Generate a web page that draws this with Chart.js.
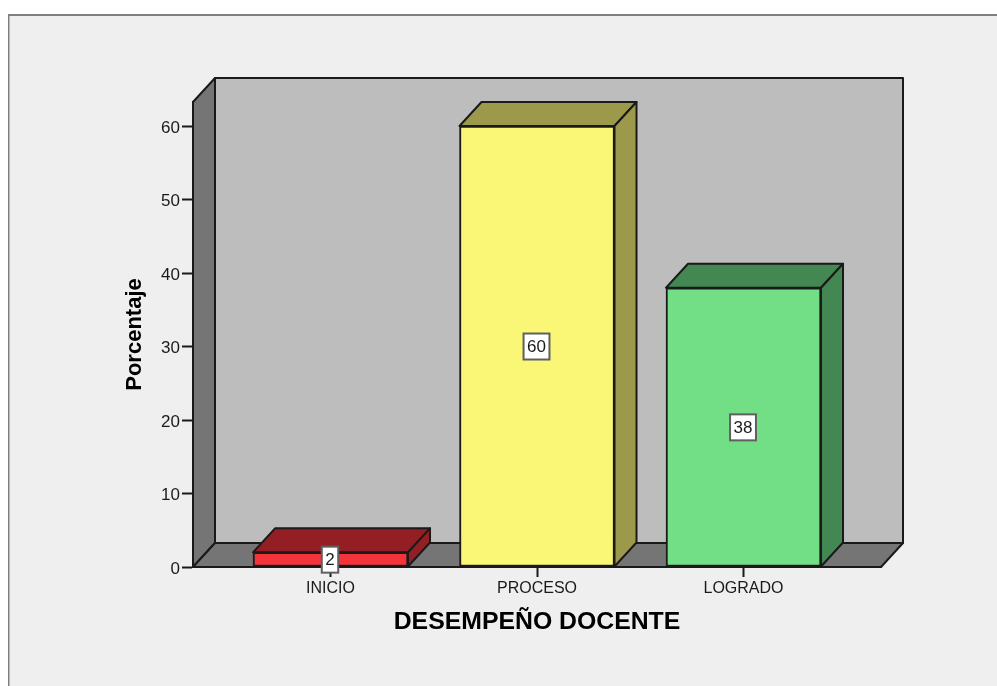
<!DOCTYPE html>
<html>
<head>
<meta charset="utf-8">
<style>
html,body{margin:0;padding:0;background:#fff;overflow:hidden}
canvas{display:block;filter:blur(0.45px)}
</style>
<script src="https://cdn.jsdelivr.net/npm/chart.js@4/dist/chart.umd.min.js"></script>
</head>
<body>
<canvas id="c" width="997" height="686"></canvas>
<script>
const categories = ['INICIO', 'PROCESO', 'LOGRADO'];
const percentages = [2, 60, 38];
const frontColors = ['#f4333b', '#fbf776', '#72de86'];
const sideColors = ['#931f24', '#9c9a4a', '#438753'];
const xAxisTitle = 'DESEMPEÑO DOCENTE';
const yAxisTitle = 'Porcentaje';
const INK = '#1a1a1a', FONT = '"Liberation Sans", Arial, sans-serif';
const DX = 22, DY = -24;

function poly(ctx, pts, fill, stroke) {
  ctx.beginPath();
  pts.forEach((p, i) => i ? ctx.lineTo(p[0], p[1]) : ctx.moveTo(p[0], p[1]));
  ctx.closePath();
  ctx.fillStyle = fill; ctx.fill();
  ctx.strokeStyle = stroke; ctx.lineWidth = 2; ctx.lineJoin = 'round'; ctx.stroke();
}

const frame = {
  id: 'frame',
  beforeDraw(chart) {
    const c = chart.ctx;
    c.save();
    c.fillStyle = '#fff'; c.fillRect(0, 0, chart.width, chart.height);
    c.fillStyle = '#808080'; c.fillRect(8, 14, chart.width, chart.height);
    c.fillStyle = '#efefef'; c.fillRect(9.5, 16, chart.width, chart.height);
    c.restore();
  }
};

const depth = {
  id: 'depth',
  beforeDatasetsDraw(chart) {
    const c = chart.ctx, a = chart.chartArea;
    c.save();
    poly(c, [[a.left + DX, a.top + DY], [a.right + DX, a.top + DY], [a.right + DX, a.bottom + DY], [a.left + DX, a.bottom + DY]], '#bdbdbd', INK);
    poly(c, [[a.left, a.top], [a.left + DX, a.top + DY], [a.left + DX, a.bottom + DY], [a.left, a.bottom]], '#757575', INK);
    poly(c, [[a.left, a.bottom], [a.left + DX, a.bottom + DY], [a.right + DX, a.bottom + DY], [a.right, a.bottom]], '#757575', INK);
    chart.getDatasetMeta(0).data.forEach((b, i) => {
      const l = b.x - b.width / 2, r = b.x + b.width / 2;
      poly(c, [[l, b.y], [l + DX, b.y + DY], [r + DX, b.y + DY], [r, b.y]], sideColors[i], INK);
      poly(c, [[r, b.y], [r + DX, b.y + DY], [r + DX, b.base + DY], [r, b.base]], sideColors[i], INK);
    });
    c.restore();
  },
  afterDatasetsDraw(chart) {
    const c = chart.ctx, ys = chart.scales.y;
    c.save();
    c.font = '17px ' + FONT;
    c.textAlign = 'center'; c.textBaseline = 'middle';
    chart.getDatasetMeta(0).data.forEach((b, i) => {
      const v = percentages[i], t = String(v);
      const yc = ys.getPixelForValue(v / 2);
      const w = c.measureText(t).width + 7, h = 26;
      const x = b.x - 0.5;
      c.fillStyle = '#fff'; c.fillRect(x - w / 2, yc - h / 2, w, h);
      c.strokeStyle = '#5f5f5f'; c.lineWidth = 2; c.strokeRect(x - w / 2, yc - h / 2, w, h);
      c.fillStyle = INK; c.fillText(t, x, yc + 1);
    });
    c.restore();
  }
};

new Chart(document.getElementById('c'), {
  type: 'bar',
  data: {
    labels: categories,
    datasets: [{
      data: percentages.map((v, i) => ({ x: i, y: v })),
      backgroundColor: frontColors,
      borderColor: INK,
      borderWidth: 2,
      borderSkipped: false,
      barThickness: 155
    }]
  },
  options: {
    responsive: false,
    animation: false,
    layout: { padding: { left: 122, right: 116, top: 102, bottom: 0 } },
    plugins: { legend: { display: false }, tooltip: { enabled: false } },
    scales: {
      x: {
        type: 'linear',
        offset: false,
        min: -0.6659,
        max: 2.6658,
        afterBuildTicks(s) { s.ticks = categories.map((_, i) => ({ value: i })); },
        afterFit(s) { s.height = 119; },
        border: { display: true, color: INK, width: 2 },
        grid: { display: true, offset: false, drawOnChartArea: false, drawTicks: true, tickLength: 10, tickWidth: 2, tickColor: INK },
        ticks: {
          autoSkip: false, maxRotation: 0, minRotation: 0, padding: 2,
          color: INK, font: { family: FONT, size: 16 },
          callback: v => categories[v]
        },
        title: {
          display: true, text: xAxisTitle, color: '#000',
          font: { family: FONT, size: 24.8, weight: 'bold' },
          padding: { top: 0, bottom: 49 }
        }
      },
      y: {
        min: 0,
        max: 63.27,
        afterFit(s) { s.width = 71; },
        border: { display: true, color: INK, width: 2 },
        grid: { display: true, offset: false, drawOnChartArea: false, drawTicks: true, tickLength: 11, tickWidth: 2, tickColor: INK },
        ticks: {
          stepSize: 10, includeBounds: false, padding: 2,
          color: INK, font: { family: FONT, size: 17, lineHeight: 0.26 },
          callback: v => ['', String(v)]
        },
        title: {
          display: true, text: yAxisTitle, color: '#000',
          font: { family: FONT, size: 22, weight: 'bold' },
          padding: { top: 0, bottom: 0 }
        }
      }
    }
  },
  plugins: [frame, depth]
});
</script>
</body>
</html>
